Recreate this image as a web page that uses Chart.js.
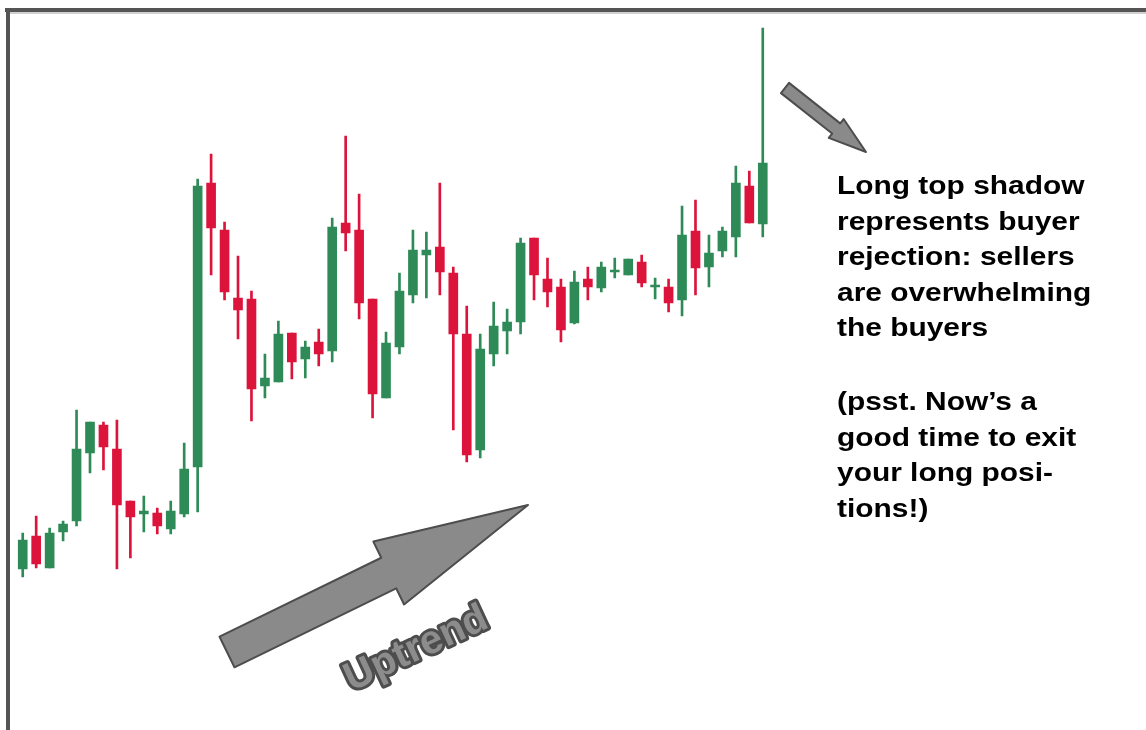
<!DOCTYPE html>
<html>
<head>
<meta charset="utf-8">
<script src="https://cdn.jsdelivr.net/npm/chart.js@4/dist/chart.umd.min.js"></script>
<style>
  html, body { margin: 0; padding: 0; background: #fff; }
  #container { width: 1146px; height: 730px; }
</style>
</head>
<body>
<div id="container"><canvas id="myChart" width="1146" height="730"></canvas></div>
<script>
// candle values (arbitrary price units)
const opens  = [31, 64, 32, 68, 79, 147, 175, 151, 99, 86, 87, 71, 86, 133, 417, 370, 302, 301, 214, 218,
                267, 241, 258, 249, 377, 370, 301, 202, 253, 305, 345, 353, 327, 266, 150, 246, 269, 278, 362, 321,
                313, 277, 321, 312, 328, 325, 338, 313, 313, 300, 369, 333, 349, 363, 414, 376];
const highs  = [67, 84, 72, 79, 190, 178, 178, 180, 99, 104, 92, 99, 157, 421, 446, 378, 344, 309, 246, 279,
                267, 259, 271, 382, 464, 406, 301, 268, 327, 370, 368, 417, 333, 294, 266, 298, 291, 362, 362, 342,
                321, 329, 333, 338, 342, 341, 345, 322, 321, 394, 400, 365, 373, 434, 429, 572];
const lows   = [23, 32, 32, 59, 74, 127, 130, 31, 42, 68, 66, 66, 83, 88, 325, 300, 261, 179, 202, 218,
                221, 222, 234, 238, 349, 281, 182, 202, 246, 297, 302, 305, 170, 138, 142, 234, 246, 266, 300, 293,
                258, 276, 300, 308, 322, 325, 313, 301, 288, 284, 305, 313, 343, 343, 377, 363];
const closes = [60, 36, 67, 76, 151, 178, 153, 95, 83, 89, 74, 89, 131, 414, 372, 308, 290, 211, 222, 266,
                238, 253, 246, 373, 367, 297, 206, 257, 309, 350, 350, 328, 266, 145, 251, 274, 278, 357, 325, 308,
                270, 318, 313, 333, 330, 341, 317, 315, 297, 365, 332, 347, 369, 417, 377, 437];
const labels = opens.map((o, i) => 'D' + (i + 1));

const noteLines1 = ['Long top shadow', 'represents buyer', 'rejection: sellers', 'are overwhelming', 'the buyers'];
const noteLines2 = ['(psst. Now\u2019s a', 'good time to exit', 'your long posi-', 'tions!)'];
const trendLabel = 'Uptrend';

const upColor = '#2e8b57';
const downColor = '#dc143c';
const candleColors = opens.map((o, i) => closes[i] >= o ? upColor : downColor);

function drawArrow(ctx, x0, y0, x1, y1, sh, hh, hl) {
    const len = Math.hypot(x1 - x0, y1 - y0);
    const ux = (x1 - x0) / len, uy = (y1 - y0) / len;
    const nx = -uy, ny = ux;
    const bx = x1 - ux * hl, by = y1 - uy * hl;
    ctx.beginPath();
    ctx.moveTo(x0 + nx * sh, y0 + ny * sh);
    ctx.lineTo(bx + nx * sh, by + ny * sh);
    ctx.lineTo(bx + nx * hh, by + ny * hh);
    ctx.lineTo(x1, y1);
    ctx.lineTo(bx - nx * hh, by - ny * hh);
    ctx.lineTo(bx - nx * sh, by - ny * sh);
    ctx.lineTo(x0 - nx * sh, y0 - ny * sh);
    ctx.closePath();
    ctx.fillStyle = '#8a8a8a';
    ctx.fill();
    ctx.lineJoin = 'round';
    ctx.lineWidth = 2;
    ctx.strokeStyle = '#4d4d4d';
    ctx.stroke();
}

const notesPlugin = {
    id: 'notes',
    afterDraw(chart) {
        const ctx = chart.ctx;
        ctx.save();

        // frame
        ctx.fillStyle = '#d0d0d0';
        ctx.fillRect(6, 12, 1140, 2);
        ctx.fillStyle = '#555';
        ctx.fillRect(5, 8, 1141, 4);
        ctx.fillRect(6, 8, 4, 722);

        // arrows
        drawArrow(ctx, 227, 652, 528, 505, 17, 35, 155);
        drawArrow(ctx, 785, 88, 866, 152, 6.5, 12, 38);

        // uptrend label
        ctx.save();
        ctx.translate(421, 659);
        ctx.rotate(-25 * Math.PI / 180);
        ctx.font = 'bold 40px "Liberation Sans", Arial, sans-serif';
        ctx.textAlign = 'center';
        ctx.textBaseline = 'alphabetic';
        ctx.lineJoin = 'round';
        ctx.lineWidth = 6;
        ctx.strokeStyle = '#4d4d4d';
        ctx.strokeText(trendLabel, 0, 0);
        ctx.fillStyle = '#8c8c8c';
        ctx.fillText(trendLabel, 0, 0);
        ctx.restore();

        // notes
        ctx.fillStyle = '#000';
        ctx.font = 'bold 26px "Liberation Sans", Arial, sans-serif';
        ctx.textAlign = 'left';
        const drawLines = (lines, y0) => {
            lines.forEach((t, i) => {
                ctx.save();
                ctx.translate(837, y0 + i * 35.5);
                ctx.scale(1.15, 1);
                ctx.fillText(t, 0, 0);
                ctx.restore();
            });
        };
        drawLines(noteLines1, 194);
        drawLines(noteLines2, 410);

        ctx.restore();
    }
};

var myChart = document.getElementById('myChart').getContext('2d');

new Chart(myChart, {
    type: 'bar',
    data: {
        labels: labels,
        datasets: [
            {
                label: 'bodies',
                data: opens.map((o, i) => [o, closes[i]]),
                backgroundColor: candleColors,
                barThickness: 9,
                borderWidth: 0,
                grouped: false,
                order: 0
            },
            {
                label: 'wicks',
                data: lows.map((l, i) => [l, highs[i]]),
                backgroundColor: candleColors,
                barThickness: 2,
                borderWidth: 0,
                grouped: false,
                order: 1
            }
        ]
    },
    options: {
        responsive: false,
        animation: false,
        layout: { padding: { left: 16, right: 376.5, top: 0, bottom: 0 } },
        scales: {
            x: { display: false, offset: true },
            y: { display: false, min: -130, max: 600 }
        },
        plugins: {
            legend: { display: false },
            tooltip: { enabled: false }
        }
    },
    plugins: [notesPlugin]
});
</script>
</body>
</html>
